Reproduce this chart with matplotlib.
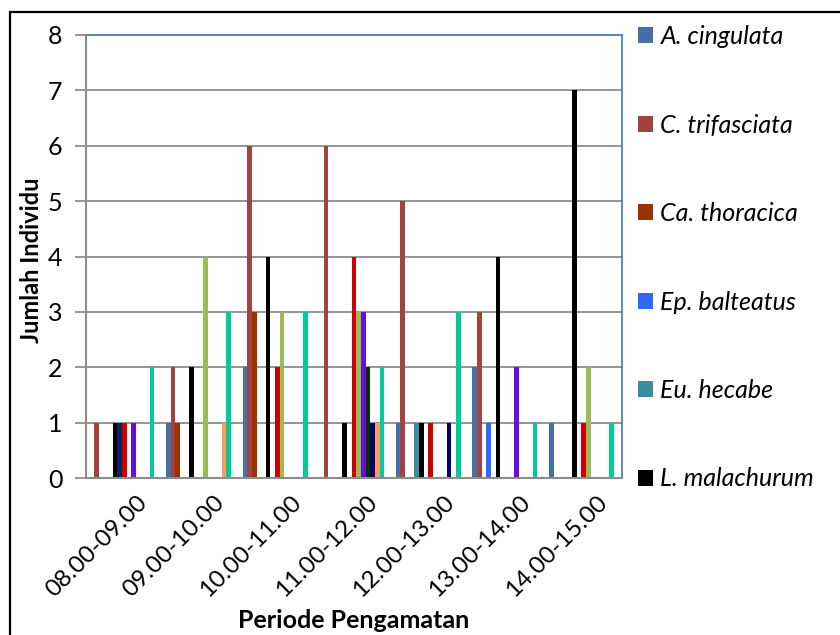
import matplotlib
matplotlib.use("Agg")
import matplotlib.pyplot as plt
import matplotlib.transforms as mtransforms
import numpy as np
from matplotlib.patches import Rectangle

plt.rcParams['font.family'] = ['Lato', 'DejaVu Sans']

categories = ["08.00-09.00", "09.00-10.00", "10.00-11.00", "11.00-12.00",
              "12.00-13.00", "13.00-14.00", "14.00-15.00"]

series_names = ["A. cingulata", "C. trifasciata", "Ca. thoracica", "Ep. balteatus",
                "Eu. hecabe", "L. malachurum", "Spesies 7", "Spesies 8", "Spesies 9",
                "Spesies 10", "Spesies 11", "Spesies 12", "Spesies 13", "Spesies 14",
                "Spesies 15"]

a_cingulata   = [0, 1, 2, 0, 1, 2, 1]
c_trifasciata = [1, 2, 6, 6, 5, 3, 0]
ca_thoracica  = [0, 1, 3, 0, 0, 0, 0]
ep_balteatus  = [0, 0, 0, 0, 0, 1, 0]
eu_hecabe     = [0, 0, 0, 0, 1, 0, 0]
l_malachurum  = [1, 2, 4, 1, 1, 4, 7]
sp7           = [1, 0, 0, 0, 0, 0, 0]
sp8           = [1, 0, 2, 4, 1, 0, 1]
sp9           = [0, 4, 3, 3, 0, 0, 2]
sp10          = [1, 0, 0, 3, 0, 2, 0]
sp11          = [0, 0, 0, 2, 0, 0, 0]
sp12          = [0, 0, 0, 1, 1, 0, 0]
sp13          = [0, 1, 0, 1, 0, 0, 0]
sp14          = [2, 3, 3, 2, 3, 1, 1]
sp15          = [0, 0, 0, 0, 0, 0, 0]

values = [a_cingulata, c_trifasciata, ca_thoracica, ep_balteatus, eu_hecabe,
          l_malachurum, sp7, sp8, sp9, sp10, sp11, sp12, sp13, sp14, sp15]

colors = ["#4470A6", "#A3433F", "#993300", "#3366FF", "#3A8CA0", "#000000",
          "#0A2463", "#CC0000", "#9BBB59", "#6A0DD6", "#003300", "#000066",
          "#FF9966", "#00CC99", "#7F7F7F"]

W, H = 840, 635
fig = plt.figure(figsize=(W / 100, H / 100), dpi=100)

left, right, top, bottom = 86, 622, 35, 478
ax = fig.add_axes([left / W, 1 - bottom / H, (right - left) / W, (bottom - top) / H])

n = len(values)
slot = 1.0 / (n + 1.5)
x = np.arange(len(categories))
bars = []
for i, (vals, col) in enumerate(zip(values, colors)):
    offs = (i - (n - 1) / 2) * slot
    b = ax.bar(x + offs, vals, width=slot, color=col, linewidth=0, zorder=3)
    bars.append(b)

ax.set_xlim(-0.5, len(categories) - 0.5)
ax.set_ylim(0, 8)
ax.set_yticks(range(0, 9))
ax.yaxis.grid(True, color="#8C8C8C", linewidth=1.3, zorder=0)
ax.set_axisbelow(True)

for s in ["top", "right"]:
    ax.spines[s].set_color("#4F81BD")
    ax.spines[s].set_linewidth(1.3)
for s in ["left", "bottom"]:
    ax.spines[s].set_color("#8C8C8C")
    ax.spines[s].set_linewidth(1.5)
    ax.spines[s].set_zorder(4)

ax.tick_params(axis="y", length=8, width=1.3, color="#8C8C8C", labelsize=18, pad=9)
ax.tick_params(axis="x", length=0, labelsize=17.5, pad=6)
ax.set_xticks(x)
ax.set_xticklabels(categories, rotation=45, ha="right", va="center",
                   rotation_mode="anchor")
for lbl in ax.get_xticklabels():
    lbl.set_transform(lbl.get_transform() +
                      mtransforms.ScaledTranslation(0.2, -0.13, fig.dpi_scale_trans))

fig.text(32 / W, 1 - 260 / H, "Jumlah Individu", rotation=90, ha="center", va="center",
         fontsize=17, fontweight="bold")
fig.text(354 / W, 1 - 621 / H, "Periode Pengamatan", ha="center", va="center",
         fontsize=18, fontweight="bold")

leg = fig.legend([b[0] for b in bars[:6]], series_names[:6],
                 loc="upper left", bbox_to_anchor=(628 / W, 1 - 15 / H),
                 frameon=False, prop={"style": "italic", "size": 18},
                 handlelength=0.6, handleheight=0.6, handletextpad=0.3,
                 labelspacing=2.62, borderaxespad=0)

fig.patches.append(Rectangle((10 / W, -0.02), 1.0, 1 - 12 / H + 0.02,
                             transform=fig.transFigure, fill=False,
                             edgecolor="black", linewidth=1.6, zorder=10))

fig.savefig("out.png", dpi=100)
